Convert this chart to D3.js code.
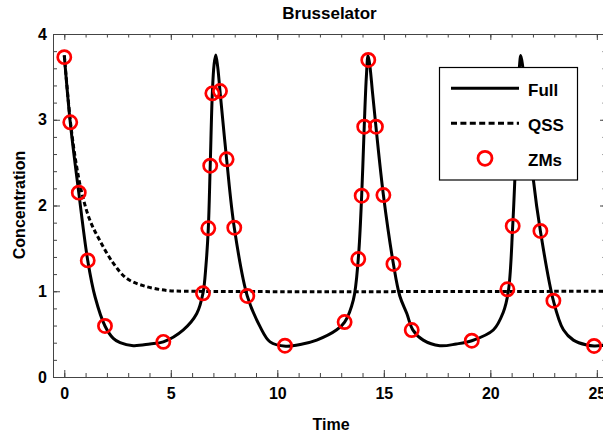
<!DOCTYPE html>
<html><head><meta charset="utf-8">
<script src="https://cdn.jsdelivr.net/npm/d3@7"></script>
<style>
body{margin:0;background:#fff;}
text{font-family:"Liberation Sans",Arial,sans-serif;font-weight:bold;}
</style></head>
<body><svg id="c" width="603" height="441"></svg>
<script>
// ---- data ----
const fullTime = [0,0.28,0.68,1.10,1.45,1.91,2.3,2.62,3.24,4.02,4.65,5.59,6.22,6.51,6.65,6.76,6.85,6.95,7.03,7.11,7.2,7.31,7.62,7.98,8.59,9.19,9.66,10.4,11.18,11.85,12.79,13.16,13.57,13.8,13.96,14.08,14.18,14.26,14.35,14.46,14.63,14.98,15.45,15.75,16.08,16.36,16.85,17.63,18.4,19.13,20.14,20.6,20.85,21.05,21.15,21.28,21.36,21.43,21.52,21.63,21.8,22.02,22.35,22.96,23.43,23.9,24.53,24.87,25.43];
const fullConc = [3.75,2.97,2.15,1.36,0.93,0.595,0.45,0.40,0.365,0.385,0.41,0.55,0.74,0.976,1.3,1.73,2.46,3.31,3.64,3.755,3.62,3.335,2.54,1.74,0.945,0.587,0.41,0.36,0.385,0.43,0.55,0.64,0.9,1.376,2.114,2.919,3.5,3.75,3.62,3.34,2.919,2.122,1.318,0.945,0.74,0.55,0.43,0.365,0.385,0.423,0.548,0.75,1.006,1.76,2.3,3.2,3.6,3.75,3.62,3.34,2.92,2.3,1.703,0.89,0.55,0.43,0.373,0.362,0.37];
const qssTime = [0,0.3,0.55,0.82,1.2,1.65,2.29,2.93,3.7,4.8,6,25.43];
const qssConc = [3.75,2.95,2.5,2.15,1.83,1.6,1.33,1.15,1.065,1.01,1.0,1.0];
const zmTime = [0,0.28,0.68,1.10,1.91,4.65,6.51,6.76,6.85,6.95,7.31,7.62,7.98,8.59,10.36,13.16,13.80,13.96,14.08,14.27,14.63,14.98,15.45,16.31,19.13,20.80,21.05,22.35,22.96,24.87];
const zmConc = [3.73,2.97,2.15,1.36,0.595,0.41,0.976,1.734,2.464,3.308,3.335,2.539,1.741,0.945,0.365,0.641,1.376,2.114,2.919,3.697,2.919,2.122,1.318,0.548,0.423,1.023,1.761,1.703,0.89,0.362];
const xTicks = [0,5,10,15,20,25];
const yTicks = [0,1,2,3,4];
const legendItems = ["Full","QSS","ZMs"];
const title = "Brusselator", xLabel = "Time", yLabel = "Concentration";

// ---- layout ----
const svg = d3.select("#c");
const L=53, R=606, T=34, B=377;
const x = d3.scaleLinear().domain([-0.53,25.43]).range([L,R]);
const y = d3.scaleLinear().domain([0,4]).range([B,T]);
const frameCol = "#444";
const xMinor = d3.range(0,26,1), yMinor = d3.range(0,4.001,0.2);

function styleAxis(g){ g.selectAll("path,line").attr("stroke",frameCol).attr("stroke-width",1); g.selectAll("text").attr("fill","#000").style("font-size","16px").style("font-family",'"Liberation Sans",Arial,sans-serif').style("font-weight","bold"); }

// bottom
svg.append("g").attr("transform",`translate(0,${B})`).call(d3.axisBottom(x).tickValues(xMinor).tickSize(-4).tickSizeOuter(0).tickFormat("")).call(styleAxis);
svg.append("g").attr("transform",`translate(0,${B})`).call(d3.axisBottom(x).tickValues(xTicks).tickSize(-7).tickSizeOuter(0).tickPadding(11).tickFormat(d3.format("d"))).call(styleAxis);
// top
svg.append("g").attr("transform",`translate(0,${T})`).call(d3.axisTop(x).tickValues(xMinor).tickSize(-3.5).tickSizeOuter(0).tickFormat("")).call(styleAxis);
svg.append("g").attr("transform",`translate(0,${T})`).call(d3.axisTop(x).tickValues(xTicks).tickSize(-6).tickSizeOuter(0).tickFormat("")).call(styleAxis);
// left
svg.append("g").attr("transform",`translate(${L},0)`).call(d3.axisLeft(y).tickValues(yMinor).tickSize(-4).tickSizeOuter(0).tickFormat("")).call(styleAxis);
svg.append("g").attr("transform",`translate(${L},0)`).call(d3.axisLeft(y).tickValues(yTicks).tickSize(-7).tickSizeOuter(0).tickPadding(6).tickFormat(d3.format("d"))).call(styleAxis);
// right
svg.append("g").attr("transform",`translate(${R},0)`).call(d3.axisRight(y).tickValues(yMinor).tickSize(-3.5).tickSizeOuter(0).tickFormat("")).call(styleAxis);
svg.append("g").attr("transform",`translate(${R},0)`).call(d3.axisRight(y).tickValues(yTicks).tickSize(-6).tickSizeOuter(0).tickFormat("")).call(styleAxis);

// clip
svg.append("clipPath").attr("id","pc").append("rect").attr("x",L).attr("y",T-10).attr("width",R-L).attr("height",B-T+10);
const plot = svg.append("g").attr("clip-path","url(#pc)");

const fullData = fullTime.map((t,i)=>[t,fullConc[i]]);
const qssData = qssTime.map((t,i)=>[t,qssConc[i]]);
const zmData = zmTime.map((t,i)=>[t,zmConc[i]]);
const line = d3.line().x(d=>x(d[0])).y(d=>y(d[1])).curve(d3.curveCatmullRom.alpha(0.5));

plot.append("path").datum(qssData).attr("d",line).attr("fill","none").attr("stroke","#000").attr("stroke-width",3).attr("stroke-dasharray","4.6,2.8");
plot.append("path").datum(fullData).attr("d",line).attr("fill","none").attr("stroke","#000").attr("stroke-width",3).attr("stroke-linejoin","round");
plot.selectAll("circle.zm").data(zmData).join("circle").attr("class","zm")
  .attr("cx",d=>x(d[0])).attr("cy",d=>y(d[1])).attr("r",6.6)
  .attr("fill","none").attr("stroke","#f00").attr("stroke-width",2.7);

// legend
const lg = svg.append("g");
lg.append("rect").attr("x",439.5).attr("y",67.5).attr("width",138).attr("height",112.5).attr("fill","#fff").attr("stroke","#000").attr("stroke-width",1.2);
const rowsY = [88.3,123.3,158.3];
lg.append("line").attr("x1",451).attr("x2",519).attr("y1",rowsY[0]).attr("y2",rowsY[0]).attr("stroke","#000").attr("stroke-width",3);
lg.append("line").attr("x1",451).attr("x2",519).attr("y1",rowsY[1]).attr("y2",rowsY[1]).attr("stroke","#000").attr("stroke-width",3).attr("stroke-dasharray","6,3.4");
lg.append("circle").attr("cx",485).attr("cy",rowsY[2]).attr("r",7).attr("fill","none").attr("stroke","#f00").attr("stroke-width",2.8);
lg.selectAll("text").data(legendItems).join("text").attr("x",528).attr("y",(d,i)=>rowsY[i]+7.4).style("font-size","17px").text(d=>d);

// titles
svg.append("text").attr("x",(L+R)/2).attr("y",18.5).attr("text-anchor","middle").style("font-size","17px").text(title);
svg.append("text").attr("x",331).attr("y",430).attr("text-anchor","middle").style("font-size","16px").text(xLabel);
svg.append("text").attr("transform","translate(25,205) rotate(-90)").attr("text-anchor","middle").style("font-size","16px").text(yLabel);
</script></body></html>
